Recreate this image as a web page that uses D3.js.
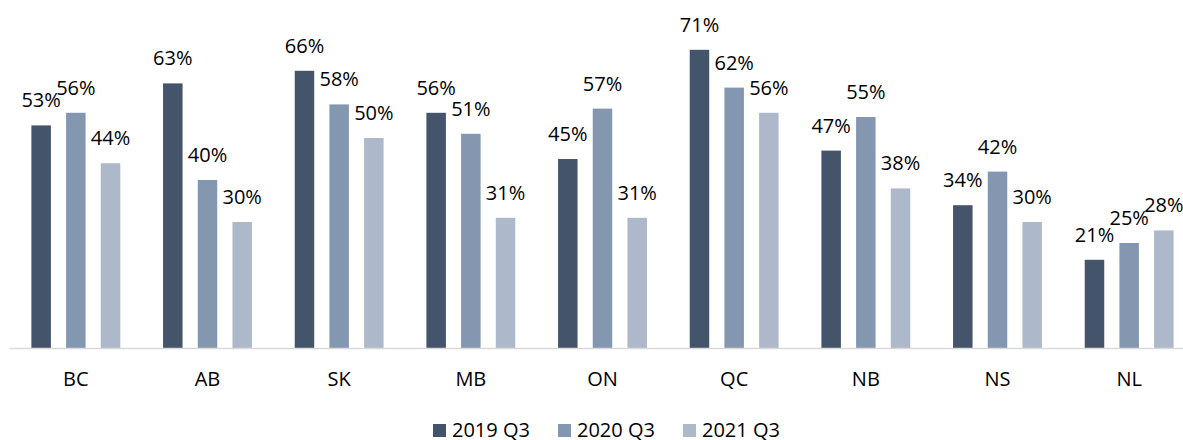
<!DOCTYPE html>
<html>
<head>
<meta charset="utf-8">
<script src="https://cdn.jsdelivr.net/npm/d3@7"></script>
<style>
  body { margin: 0; background: #fff; overflow: hidden; }
  text { font-family: "Open Sans", sans-serif; fill: #000; }
</style>
</head>
<body>
<div id="chart"></div>
<script>
// categories and series
var provinces = ["BC", "AB", "SK", "MB", "ON", "QC", "NB", "NS", "NL"];
var seriesNames = ["2019 Q3", "2020 Q3", "2021 Q3"];
var q3_2019 = [0.53, 0.63, 0.66, 0.56, 0.45, 0.71, 0.47, 0.34, 0.21];
var q3_2020 = [0.56, 0.40, 0.58, 0.51, 0.57, 0.62, 0.55, 0.42, 0.25];
var q3_2021 = [0.44, 0.30, 0.50, 0.31, 0.31, 0.56, 0.38, 0.30, 0.28];
var colors = ["#44546a", "#8497b0", "#adb9ca"];

var width = 1183, height = 440;
var base = 348;

var svg = d3.select("#chart")
  .append("svg")
    .attr("width", width)
    .attr("height", height);

// x axis reaches past the right edge like in the picture
var x = d3.scaleBand()
  .domain(provinces)
  .range([10, 1195])
  .paddingInner(0)
  .paddingOuter(0);

var xSub = d3.scaleBand()
  .domain(seriesNames)
  .range([21.4, x.bandwidth() - 21.4])
  .paddingInner(0.438)
  .paddingOuter(0);

var y = d3.scaleLinear()
  .domain([0, 0.8])
  .range([base, base - 336]);

var rows = provinces.map(function(p, i) {
  return { prov: p, vals: [q3_2019[i], q3_2020[i], q3_2021[i]] };
});

var groups = svg.selectAll("g.grp")
  .data(rows)
  .enter()
  .append("g")
    .attr("class", "grp")
    .attr("transform", function(d) { return "translate(" + x(d.prov) + ",0)"; });

groups.selectAll("rect")
  .data(function(d) { return d.vals.map(function(v, j) { return { v: v, s: seriesNames[j], j: j }; }); })
  .enter()
  .append("rect")
    .attr("x", function(d) { return xSub(d.s); })
    .attr("y", function(d) { return y(d.v); })
    .attr("width", xSub.bandwidth())
    .attr("height", function(d) { return base - y(d.v); })
    .attr("fill", function(d) { return colors[d.j]; });

groups.selectAll("text.lbl")
  .data(function(d) { return d.vals.map(function(v, j) { return { v: v, s: seriesNames[j] }; }); })
  .enter()
  .append("text")
    .attr("class", "lbl")
    .attr("x", function(d) { return xSub(d.s) + xSub.bandwidth() / 2; })
    .attr("y", function(d) { return y(d.v) - 18; })
    .attr("text-anchor", "middle")
    .style("font-size", "20px")
    .text(function(d) { return Math.round(d.v * 100) + "%"; });

// baseline
svg.append("line")
  .attr("x1", 10)
  .attr("x2", 1195)
  .attr("y1", base + 0.5)
  .attr("y2", base + 0.5)
  .attr("stroke", "#d9d9d9")
  .attr("stroke-width", 1.5);

// category labels
var xAxis = svg.append("g")
  .attr("transform", "translate(0," + base + ")")
  .call(d3.axisBottom(x).tickSize(0).tickPadding(0));
xAxis.select(".domain").remove();
xAxis.selectAll("text")
  .attr("dy", null)
  .attr("y", 38)
  .style("font-size", "20px")
  .style("font-family", "'Open Sans', sans-serif")
  .attr("fill", "#000");

// legend
var legendX = [433, 558, 683];
var legend = svg.append("g");
seriesNames.forEach(function(name, i) {
  legend.append("rect")
    .attr("x", legendX[i])
    .attr("y", 424)
    .attr("width", 13)
    .attr("height", 13)
    .attr("fill", colors[i]);
  legend.append("text")
    .attr("x", legendX[i] + 19)
    .attr("y", 437)
    .style("font-size", "20px")
    .text(name);
});
</script>
</body>
</html>
